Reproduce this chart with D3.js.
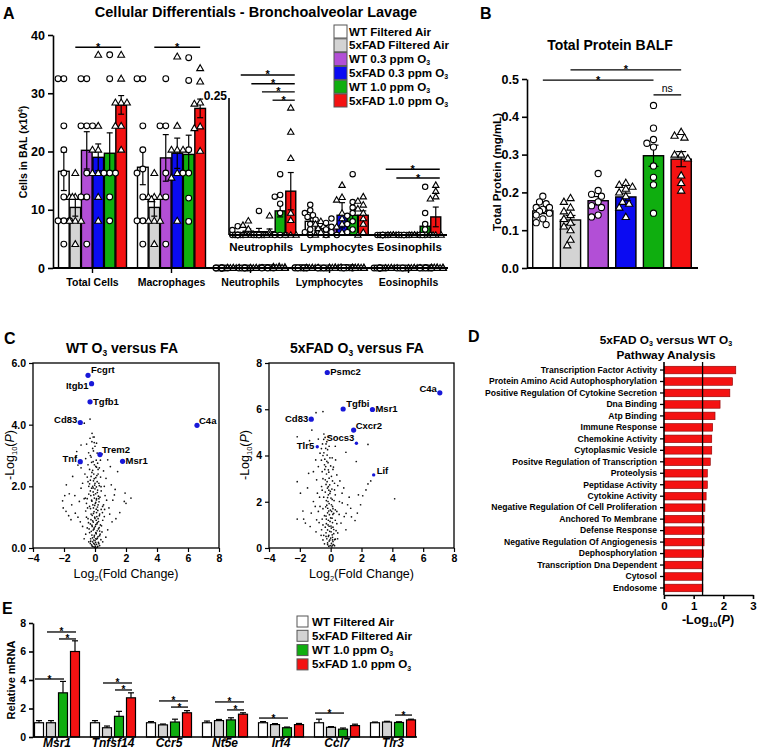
<!DOCTYPE html>
<html>
<head>
<meta charset="utf-8">
<script src="https://cdn.jsdelivr.net/npm/d3@7/dist/d3.min.js"></script>
<style>
body{margin:0;background:#fff;}
svg text{font-family:Arial,"Liberation Sans",Helvetica,sans-serif;}
</style>
</head>
<body>
<svg id="chart" width="757" height="752" xmlns="http://www.w3.org/2000/svg"></svg>
<script>
// ================= DATA =================
const groups = ["WT Filtered Air","5xFAD Filtered Air","WT 0.3 ppm O_{3}","5xFAD 0.3 ppm O_{3}","WT 1.0 ppm O_{3}","5xFAD 1.0 ppm O_{3}"];
const groupColors = ["#ffffff","#d3d3d3","#b24fd6","#0b0bf2","#0fae0f","#f41212"];
const groupMarkers = ["circle","triangle","circle","triangle","circle","triangle"];

// Panel A
const cellTypes = ["Total Cells","Macrophages","Neutrophils","Lymphocytes","Eosinophils"];
const insetTypes = ["Neutrophils","Lymphocytes","Eosinophils"];
const cellYTicks = [0,10,20,30,40];
const insetYTicks = [0.25];

const totalCellsMean = [16.6,10.4,20.2,19.0,19.7,28.0];
const totalCellsSem  = [3.3,1.5,3.2,2.3,3.5,1.6];
const totalCellsPoints = [
  [32.5,32.5,24.4,20.3,16.3,12.2,8.1,8.1,8.1,4.1],
  [16.3,12.2,12.2,12.2,12.2,8.1,8.1,8.1,4.1],
  [32.5,32.5,24.4,24.4,24.4,16.3,12.2,12.2,4.1],
  [36.6,24.4,20.3,20.3,16.3,16.3,16.3,12.2,8.1],
  [36.6,32.5,16.3,16.3,16.3,12.2,8.1],
  [36.6,32.5,28.4,28.4,28.4,24.4,24.4,20.3]
];
const macrophagesMean = [17.3,10.4,18.9,19.7,19.5,27.4];
const macrophagesSem  = [3.0,1.5,4.0,2.6,3.3,1.6];
const macrophagesPoints = [
  [32.5,32.5,24.4,20.3,17.0,16.3,12.2,8.1,8.1,4.1],
  [16.3,12.2,12.2,12.2,11.8,8.1,8.1,8.1,4.1],
  [32.5,24.4,24.4,16.3,12.2,4.1],
  [36.3,24.4,20.3,20.3,20.3,16.3,15.5,8.1],
  [36.1,32.2,20.3,16.3,16.3,12.0,8.0],
  [34.3,32.0,28.4,28.2,24.3,24.0,20.1]
];
const neutrophilsMean = [0.003,0.007,0.006,0.006,0.044,0.080];
const neutrophilsSem  = [0.002,0.004,0.006,0.005,0.011,0.034];
const neutrophilsPoints = [
  [0.016,0.009,0,0,0,0,0,0,0,0],
  [0.026,0.018,0.011,0,0,0,0,0],
  [0.044,0,0,0,0,0,0],
  [0.035,0.005,0,0,0,0,0],
  [0.111,0.073,0.070,0.057,0.040,0,0,0],
  [0.232,0.188,0.140,0.040,0.027,0,0,0]
];
const lymphocytesMean = [0.025,0.011,0.012,0.036,0.036,0.036];
const lymphocytesSem  = [0.006,0.004,0.004,0.023,0.010,0.008];
const lymphocytesPoints = [
  [0.055,0.045,0.040,0.036,0.033,0.028,0.020,0.010,0.005,0],
  [0.025,0.020,0.016,0.012,0.010,0.005,0,0],
  [0.030,0.022,0.015,0.010,0.005,0,0],
  [0.091,0.069,0.064,0.040,0.030,0.020,0.015,0.005],
  [0.111,0.060,0.050,0.040,0.035,0.025,0.020,0.010,0.005],
  [0.070,0.062,0.055,0.048,0.040,0.030,0.020,0.005,0]
];
const eosinophilsMean = [0,0,0,0,0.016,0.033];
const eosinophilsSem  = [0,0,0,0,0.006,0.018];
const eosinophilsPoints = [
  [0,0,0,0,0,0,0,0],
  [0,0,0,0,0,0,0],
  [0,0,0,0,0,0],
  [0,0,0,0,0,0,0],
  [0.088,0.040,0.020,0.010,0,0,0,0],
  [0.091,0.080,0.070,0.066,0,0,0,0]
];
const cellSig = [
  {cat:"Total Cells", a:1, b:5, y:37.9},
  {cat:"Macrophages", a:1, b:5, y:37.9}
];
const insetSig = [
  {cat:"Neutrophils", a:0, b:5, y:0.292},
  {cat:"Neutrophils", a:1, b:5, y:0.276},
  {cat:"Neutrophils", a:2, b:5, y:0.261},
  {cat:"Neutrophils", a:3, b:5, y:0.246},
  {cat:"Eosinophils", a:0, b:5, y:0.120},
  {cat:"Eosinophils", a:1, b:5, y:0.104}
];

// Panel B
const proteinYTicks = [0,0.1,0.2,0.3,0.4,0.5];
const proteinMean = [0.151,0.127,0.178,0.188,0.297,0.288];
const proteinSem  = [0.007,0.012,0.011,0.010,0.028,0.020];
const proteinPoints = [
  [0.19,0.175,0.17,0.16,0.16,0.155,0.15,0.145,0.14,0.13,0.12,0.115],
  [0.185,0.175,0.16,0.15,0.14,0.13,0.12,0.11,0.10,0.075,0.06],
  [0.25,0.205,0.195,0.19,0.175,0.165,0.16,0.14,0.135],
  [0.225,0.22,0.215,0.21,0.20,0.19,0.175,0.17,0.16,0.135],
  [0.43,0.37,0.34,0.33,0.32,0.27,0.24,0.22,0.145],
  [0.36,0.35,0.345,0.30,0.30,0.29,0.245,0.225,0.205]
];
const proteinSig = [
  {a:1, b:5, y:0.524, label:"*"},
  {a:0, b:4, y:0.497, label:"*"},
  {a:4, b:5, y:0.458, label:"ns"}
];

// Panel C
const volcanoXTicks = [-4,-2,0,2,4,6,8];
const wtGenes = ["Fcgrt","Itgb1","Tgfb1","Cd83","C4a","Trem2","Tnf","Msr1"];
const wtGeneFC = [-0.45,-0.22,-0.32,-0.95,6.58,0.32,-0.95,1.78];
const wtGeneP  = [5.6,5.33,4.74,4.07,3.98,3.03,2.8,2.81];
const wtBackground = [
[-0.32,4.18],[-0.69,4.05],[-0.19,3.72],[-0.05,3.6],[-0.32,3.56],[-0.54,3.37],[0.1,3.4],[-0.15,3.23],[-0.41,3.09],[-0.9,3.34],
[-1.18,3.13],[-1.23,2.96],[-0.6,2.9],[0.17,2.75],[0.82,2.86],[0.99,2.64],[0.71,2.26],[1.46,2.48],[1.25,1.72],[0.65,1.7],
[1.89,1.51],[2.32,1.62],[1.94,1.78],[-1.66,1.76],[-2.09,1.53],[-1.87,1.19],[-1.55,0.92],[-1.27,1.13],[-1.01,1.51],[-0.9,1.94],
[-1.44,2.32],[-1.1,2.69],[-0.8,2.1],[-0.7,1.6],[0.39,1.99],[0.49,1.35],[0.6,1.02],[0.82,0.59],[0.3,0.55],[-0.8,0.7],
[-0.6,0.45],[-0.4,0.2],[-2.05,1.3],[-1.85,2.05],[2.0,1.45],[1.6,1.15],[1.1,0.85],[1.05,2.05],[0.55,2.5],[0.45,3.05],
[-0.25,2.95],[-0.12,2.8],[0.05,2.65],[-0.35,2.55],[-0.2,2.45],[0.12,2.35],[-0.05,2.25],[-0.45,2.15],[0.25,2.1],[-0.15,2.0],
[0.0,1.92],[-0.3,1.85],[0.15,1.8],[-0.08,1.72],[0.32,1.65],[-0.5,1.6],[-0.22,1.55],[0.05,1.48],[0.2,1.4],[-0.35,1.35],
[-0.1,1.3],[0.4,1.25],[-0.6,1.2],[0.1,1.15],[-0.25,1.1],[0.28,1.05],[-0.02,1.0],[-0.45,0.95],[0.5,0.9],[-0.15,0.88],
[0.15,0.82],[-0.3,0.78],[0.35,0.75],[0.02,0.7],[-0.5,0.65],[0.22,0.62],[-0.12,0.58],[0.45,0.52],[-0.35,0.5],[0.08,0.46],
[-0.2,0.42],[0.3,0.4],[-0.05,0.36],[0.15,0.32],[-0.28,0.3],[0.38,0.27],[0.0,0.24],[-0.15,0.2],[0.22,0.18],[-0.08,0.15],
[0.1,0.12],[-0.22,0.1],[0.3,0.08],[0.02,0.06],[-0.12,0.04],[0.15,0.03],[-0.03,0.02],[0.06,0.01],[-0.3,0.15],[0.5,0.2],
[0.7,0.35],[-0.7,0.3],[0.9,1.3],[1.3,1.9],[-1.3,1.7],[-1.5,1.4],[-1.1,1.0],[-0.95,0.85],[0.75,1.55],[0.95,1.1],
[-0.65,2.4],[-0.9,2.6],[0.3,3.0],[-0.1,3.15],[0.0,3.3],[-0.2,3.45],[0.25,1.6],[-0.4,1.75],[0.6,2.0],[-0.55,1.0],
[0.2,0.95],[1.15,1.55],[1.35,0.95],[-1.7,1.05],[-1.95,1.7],[0.05,0.5],[-0.05,0.65],[0.12,0.78],[-0.18,0.7],[0.08,0.9],
[-0.1,1.12],[0.18,1.22],[-0.02,1.38],[0.1,1.6],[-0.12,1.95],[0.2,2.55],[-0.3,2.2],[0.0,2.1],[-0.08,2.4],[0.04,0.3],
[-0.02,0.12],[0.04,0.18],[-0.09,0.26],[0.11,0.29],[-0.16,0.33],[0.2,0.37],[-0.04,0.41],[0.07,0.48],[-0.24,0.54],[0.14,0.56],
[-0.07,0.61],[0.27,0.66],[-0.2,0.74],[0.05,0.76],[-0.11,0.84],[0.23,0.86],[-0.26,0.92],[0.0,0.96],[0.12,1.02],[-0.18,1.06],
[0.3,1.1],[-0.06,1.18],[0.08,1.26],[-0.29,1.28],[0.16,1.33],[-0.14,1.4],[0.02,1.45],[0.26,1.5],[-0.2,1.52],[0.09,1.56],
[-0.04,1.62],[0.22,1.68],[-0.27,1.7],[0.04,1.76],[-0.12,1.82],[0.17,1.88],[-0.22,1.94],[0.09,1.98],[-0.02,2.04],[0.28,2.02],
[-0.35,2.08],[0.14,2.15],[-0.1,2.18],[0.05,2.28],[-0.25,2.32],[0.2,2.4],[-0.15,2.52],[0.1,2.62],[-0.04,2.7],[-0.22,2.78],
[0.08,2.85],[-0.3,3.0],[0.14,3.08],[-0.05,3.42],[-0.12,3.6],[0.18,0.05],[-0.18,0.06],[0.25,0.14],[-0.28,0.22],[0.33,0.45],
[-0.38,0.62],[0.42,0.72],[-0.42,0.82],[0.48,1.15],[-0.48,1.3],[0.55,1.4],[-0.55,1.45],[0.62,1.25],[-0.62,1.62],[0.4,1.85],
[-0.4,2.0],[0.36,2.3],[-0.5,2.3],[0.28,2.6],[-0.45,2.7],[0.35,2.85]
];
const fadGenes = ["Psmc2","C4a","Tgfbi","Msr1","Cd83","Cxcr2","Socs3","Tlr5","Lif"];
const fadGeneFC = [-0.22,7.08,0.81,2.71,-1.26,1.49,1.67,-0.87,2.79];
const fadGeneP  = [7.59,6.71,6.01,5.99,5.57,5.1,4.53,4.38,3.16];
const fadBackground = [
[-0.95,5.85],[-0.5,5.9],[-1.22,5.1],[-2.17,4.81],[-1.37,4.64],[-0.8,4.71],[-0.44,4.93],[-0.36,4.78],[-0.53,4.5],[-0.32,4.31],
[-0.44,4.12],[-0.23,4.02],[-0.38,3.84],[-0.17,3.69],[-0.32,3.52],[-0.15,3.38],[-0.27,3.2],[-0.1,3.02],[-0.23,2.87],[-0.06,2.73],
[-0.21,2.59],[-0.02,2.45],[-0.15,2.3],[0.02,2.16],[-0.17,2.01],[0.05,1.87],[-0.19,1.72],[0.06,1.58],[-0.08,1.44],[0.09,1.29],
[-0.04,1.15],[-0.17,1.0],[0.04,0.86],[-0.06,0.72],[0.1,0.57],[0.0,0.43],[-0.1,0.3],[0.05,0.2],[-0.03,0.1],[0.08,0.05],
[0.99,4.14],[1.66,3.74],[2.42,4.48],[2.42,2.77],[4.15,2.13],[2.29,2.51],[2.08,2.26],[1.94,1.87],[1.73,1.51],[1.58,1.19],
[1.3,1.72],[1.1,1.87],[0.88,1.36],[0.4,3.16],[0.32,3.81],[0.46,2.7],[0.74,2.37],[0.25,2.51],[0.57,2.01],[0.4,1.58],
[0.67,1.08],[0.99,0.79],[0.46,0.65],[0.25,0.36],[-2.17,2.87],[-1.96,2.37],[-2.17,1.25],[-1.75,1.25],[-1.64,1.08],[-1.26,1.51],
[-1.43,3.23],[-1.12,3.3],[-0.97,3.81],[-0.8,3.52],[-0.86,2.37],[-0.69,1.8],[-1.12,2.01],[-0.91,1.22],[-0.59,0.79],[-1.33,0.93],
[-0.8,1.58],[-0.59,2.66],[-0.91,2.95],[-0.69,4.1],[-0.55,3.3],[-0.45,2.2],[-0.4,1.4],[-0.35,0.9],[-0.3,0.5],[-0.5,0.35],
[0.2,0.8],[0.3,1.2],[0.15,1.7],[0.22,2.05],[0.12,2.9],[0.18,3.5],[0.6,2.9],[0.85,2.6],[1.2,2.2],[1.0,1.5],
[-0.62,0.55],[-0.75,1.1],[-1.0,1.8],[-1.5,2.6],[-1.8,1.6],[-0.28,1.25],[-0.25,1.85],[-0.12,2.5],[-0.3,2.75],[-0.4,3.6],
[-0.25,4.6],[-0.1,4.4],[-0.45,4.7],[0.12,0.35],[0.18,0.15],[-0.2,0.15],[-0.12,0.55],[0.02,0.95],[0.14,1.45],[-0.13,1.6],
[0.45,0.4],[0.55,1.45],[0.75,1.95],[1.35,1.35],[1.8,2.3],[2.6,2.9],[0.3,4.4],[-0.6,4.3],[-0.72,2.2],[-0.95,0.7],
[-0.12,0.08],[0.1,0.12],[-0.2,0.22],[0.15,0.28],[-0.05,0.35],[-0.25,0.4],[0.12,0.46],[-0.15,0.5],[0.2,0.62],[-0.3,0.66],
[0.03,0.7],[-0.2,0.78],[0.15,0.9],[-0.1,0.94],[-0.28,1.05],[0.12,1.1],[-0.15,1.2],[0.0,1.3],[-0.3,1.38],[0.2,1.5],
[-0.2,1.52],[-0.02,1.64],[-0.32,1.78],[0.12,1.8],[-0.1,1.92],[-0.28,2.05],[0.1,2.1],[-0.2,2.18],[-0.05,2.36],[-0.35,2.42],
[0.08,2.55],[-0.15,2.65],[-0.35,2.95],[0.05,3.1],[-0.12,3.28],[-0.38,3.4],[0.0,3.55],[-0.25,3.75],[-0.05,3.9],[-0.2,4.25],
[-0.3,4.5],[-0.12,4.8],[0.25,0.1],[-0.4,0.18],[0.3,0.38],[-0.45,0.55],[0.35,0.75],[-0.5,1.0],[0.4,1.05],[-0.55,1.25],
[0.3,1.65],[-0.5,1.7],[0.3,2.3],[-0.55,2.5],[0.25,2.8],[-0.5,3.0],[0.15,3.4],[-0.6,3.8],[0.1,3.9],[-0.5,4.0]
];

// Panel D
const pathways = ["Transcription Factor Activity","Protein Amino Acid Autophosphorylation","Positive Regulation Of Cytokine Secretion","Dna Binding","Atp Binding","Immune Response","Chemokine Activity","Cytoplasmic Vesicle","Positve Regulation of Transcription","Proteolysis","Peptidase Activity","Cytokine Activity","Negative Regulation Of Cell Proliferation","Anchored To Membrane","Defense Response","Negative Regulation Of Angiogenesis","Dephosphorylation","Transcription Dna Dependent","Cytosol","Endosome"];
const pathwayLogP = [2.42,2.31,2.22,1.89,1.72,1.64,1.61,1.61,1.56,1.46,1.46,1.42,1.38,1.35,1.35,1.35,1.33,1.31,1.31,1.31];
const pathwayXTicks = [0,1,2,3];
const pathwayThreshold = 1.3;

// Panel E
const genesE = ["Msr1","Tnfsf14","Ccr5","Nt5e","Irf4","Ccl7","Tlr3"];
const groupsE = [0,1,4,5];
const mrnaYTicks = [0,2,4,6,8];
const mrnaWTFA    = [1.0,1.0,1.0,1.0,1.0,1.0,1.0];
const mrnaFADFA   = [1.0,0.65,0.85,1.15,0.87,0.68,1.05];
const mrnaWTO3    = [3.1,1.45,1.05,1.2,0.65,0.55,1.02];
const mrnaFADO3   = [6.0,2.75,1.7,1.6,0.87,0.8,1.2];
const mrnaWTFASem  = [0.15,0.15,0.08,0.12,0.08,0.25,0.05];
const mrnaFADFASem = [0.15,0.12,0.06,0.08,0.07,0.05,0.05];
const mrnaWTO3Sem  = [0.8,0.35,0.2,0.15,0.05,0.08,0.05];
const mrnaFADO3Sem = [0.75,0.35,0.15,0.1,0.08,0.1,0.05];
const mrnaSig = [
  {gene:"Msr1", a:1, b:3, y:7.37},{gene:"Msr1", a:2, b:3, y:6.88},{gene:"Msr1", a:0, b:2, y:4.07},
  {gene:"Tnfsf14", a:1, b:3, y:3.79},{gene:"Tnfsf14", a:2, b:3, y:3.3},
  {gene:"Ccr5", a:1, b:3, y:2.53},{gene:"Ccr5", a:2, b:3, y:2.1},
  {gene:"Nt5e", a:1, b:3, y:2.46},{gene:"Nt5e", a:2, b:3, y:1.9},
  {gene:"Irf4", a:0, b:2, y:1.33},
  {gene:"Ccl7", a:0, b:2, y:1.68},
  {gene:"Tlr3", a:2, b:3, y:1.54}
];

// ================= HELPERS =================
const svg = d3.select("#chart");
function rich(sel, str, fs) {
  const re = /(_\{[^}]*\}|\^\{[^}]*\}|\*\{[^}]*\})/;
  const parts = str.split(re).filter(s => s.length);
  let cur = 0;
  parts.forEach(p => {
    let target = 0, txt = p, size = fs, italic = false;
    if (p.startsWith("_{")) { txt = p.slice(2,-1); target = fs*0.2; size = fs*0.6; }
    else if (p.startsWith("^{")) { txt = p.slice(2,-1); target = -fs*0.38; size = fs*0.62; }
    else if (p.startsWith("*{")) { txt = p.slice(2,-1); italic = true; }
    const t = sel.append("tspan").attr("dy", target - cur).style("font-size", size + "px").text(txt);
    if (italic) t.style("font-style","italic");
    cur = target;
  });
  return sel;
}
function text(g, x, y, str, fs, opts={}) {
  const t = g.append("text").attr("x", x).attr("y", y)
    .attr("text-anchor", opts.anchor || "start")
    .style("font-weight", opts.weight || "bold").style("font-size", fs+"px").attr("fill","#000");
  if (opts.rotate) t.attr("transform", `rotate(-90,${x},${y})`);
  if (opts.italic) t.style("font-style","italic");
  rich(t, str, fs);
  return t;
}
function marker(g, shape, x, y, r) {
  if (shape === "circle") {
    g.append("circle").attr("cx", x).attr("cy", y).attr("r", r)
      .attr("fill","#fff").attr("stroke","#000").attr("stroke-width",1.1);
  } else {
    g.append("path").attr("d", d3.symbol(d3.symbolTriangle, r*r*2.4)())
      .attr("transform", `translate(${x},${y + r*0.15})`)
      .attr("fill","#fff").attr("stroke","#000").attr("stroke-width",1.1);
  }
}
function swarm(vals, yS, cx, step, r) {
  const idx = vals.map((v,i)=>i).sort((a,b)=>vals[b]-vals[a]);
  const placed = [], res = new Array(vals.length);
  const offs = [0,-1,1,-2,2];
  idx.forEach(i => {
    const py = yS(vals[i]);
    let best = cx, bestD = -1;
    for (const k of offs) {
      const px = cx + k*step;
      let md = Infinity;
      placed.forEach(p => { md = Math.min(md, Math.hypot(p[0]-px, p[1]-py)); });
      if (md >= 2*r) { best = px; break; }
      if (md > bestD) { bestD = md; best = px; }
    }
    placed.push([best,py]); res[i] = [best,py];
  });
  return res;
}
function errBar(g, cx, yS, m, s, cap) {
  if (!s) return;
  g.append("line").attr("x1",cx).attr("x2",cx).attr("y1",yS(m-s)).attr("y2",yS(m+s)).attr("stroke","#000").attr("stroke-width",1.2);
  [m-s, m+s].forEach(v => g.append("line").attr("x1",cx-cap).attr("x2",cx+cap).attr("y1",yS(v)).attr("y2",yS(v)).attr("stroke","#000").attr("stroke-width",1.2));
}
function sigLine(g, x1, x2, y, label, fs) {
  g.append("line").attr("x1",x1).attr("x2",x2).attr("y1",y).attr("y2",y).attr("stroke","#000").attr("stroke-width",1.3);
  if (label === "*") text(g, (x1+x2)/2, y+3.5, "*", fs, {anchor:"middle"});
  else text(g, (x1+x2)/2, y-3, label, fs, {anchor:"middle", weight:"normal"});
}
function styleAxis(ax, fs) {
  ax.selectAll("path,line").attr("stroke","#000").attr("stroke-width",1.6);
  ax.selectAll("text").style("font-weight","bold").style("font-size", fs+"px").attr("fill","#000")
    .style("font-family",'Arial,"Liberation Sans",sans-serif');
}
function drawGroupedBars(g, centers, barW, yS, means, sems, pts, colorIdx, r, step, cap) {
  means.forEach((m,i) => {
    const cx = centers[i];
    const ci = colorIdx[i];
    const h = Math.max(0, yS(0) - yS(m));
    g.append("rect").attr("x", cx-barW/2).attr("y", yS(m)).attr("width", barW).attr("height", h)
      .attr("fill", groupColors[ci]).attr("stroke","#000").attr("stroke-width",1.4);
  });
  means.forEach((m,i) => errBar(g, centers[i], yS, m, sems[i], cap));
  if (pts) pts.forEach((vals,i) => {
    const pos = swarm(vals, yS, centers[i], step, r);
    pos.forEach(p => marker(g, groupMarkers[colorIdx[i]], p[0], p[1], r));
  });
}

// ================= PANEL A =================
const gA = svg.append("g");
text(gA, 3, 19, "A", 16);
text(gA, 256, 17, "Cellular Differentials - Bronchoalveolar Lavage", 14.5, {anchor:"middle"});
const aY = d3.scaleLinear().domain([0,40]).range([268,35]);
const aX = d3.scaleBand().domain(cellTypes).range([53,448]);
const aSub = d3.scaleBand().domain(d3.range(6)).range([-34,34]).paddingInner(0.07);
const aMeans = [totalCellsMean, macrophagesMean, neutrophilsMean, lymphocytesMean, eosinophilsMean];
const aSems  = [totalCellsSem, macrophagesSem, neutrophilsSem, lymphocytesSem, eosinophilsSem];
const aPts   = [totalCellsPoints, macrophagesPoints, neutrophilsPoints, lymphocytesPoints, eosinophilsPoints];
cellTypes.forEach((c,ci) => {
  const centers = d3.range(6).map(i => aX(c) + aX.bandwidth()/2 + aSub(i) + aSub.bandwidth()/2);
  drawGroupedBars(gA, centers, aSub.bandwidth(), aY, aMeans[ci], ci < 2 ? aSems[ci] : [0,0,0,0,0,0], aPts[ci], d3.range(6), 2.9, 2.9, 3);
});
const axA = gA.append("g").attr("transform","translate(53,0)").call(d3.axisLeft(aY).tickValues(cellYTicks).tickSize(5).tickSizeOuter(0));
styleAxis(axA, 12.5);
gA.append("line").attr("x1",53).attr("x2",448).attr("y1",268).attr("y2",268).attr("stroke","#000").attr("stroke-width",1.8);
cellTypes.forEach(c => {
  const cx = aX(c) + aX.bandwidth()/2;
  gA.append("line").attr("x1",cx).attr("x2",cx).attr("y1",268).attr("y2",273).attr("stroke","#000").attr("stroke-width",1.4);
  text(gA, cx, 286, c, 10.5, {anchor:"middle"});
});
text(gA, 27, 152, "Cells in BAL (x10^{4})", 10.5, {anchor:"middle", rotate:true});
cellSig.forEach(s => {
  const base = aX(s.cat) + aX.bandwidth()/2;
  sigLine(gA, base + aSub(s.a) + aSub.bandwidth()/2, base + aSub(s.b) + aSub.bandwidth()/2, aY(s.y), "*", 11);
});

// inset
const iY = d3.scaleLinear().domain([0,0.25]).range([235,98]);
const iX = d3.scaleBand().domain(insetTypes).range([228,445.5]);
const iSub = d3.scaleBand().domain(d3.range(6)).range([-31.5,31.5]).paddingInner(0.06);
const iMeans = [neutrophilsMean, lymphocytesMean, eosinophilsMean];
const iSems = [neutrophilsSem, lymphocytesSem, eosinophilsSem];
const iPts = [neutrophilsPoints, lymphocytesPoints, eosinophilsPoints];
insetTypes.forEach((c,ci) => {
  const centers = d3.range(6).map(i => iX(c) + iX.bandwidth()/2 + iSub(i) + iSub.bandwidth()/2);
  drawGroupedBars(gA, centers, iSub.bandwidth(), iY, iMeans[ci], iSems[ci], iPts[ci], d3.range(6), 2.7, 2.7, 3);
  text(gA, iX(c) + iX.bandwidth()/2 - (ci === 0 ? 3 : 0), 251, c, 11.5, {anchor:"middle"});
});
const axI = gA.append("g").attr("transform","translate(229,0)").call(d3.axisLeft(iY).tickValues(insetYTicks).tickSize(0).tickSizeOuter(0).tickFormat(d3.format(".2f")));
styleAxis(axI, 12);
axI.select(".domain").attr("d", `M0,${iY(0.25)}V${iY(0)}`);
axI.selectAll(".tick text").attr("x", -2).attr("dy", "0.1em");
gA.append("line").attr("x1",229).attr("x2",447).attr("y1",235).attr("y2",235).attr("stroke","#000").attr("stroke-width",1.8);
insetSig.forEach(s => {
  const base = iX(s.cat) + iX.bandwidth()/2;
  sigLine(gA, base + iSub(s.a) + iSub.bandwidth()/2 + 3, base + iSub(s.b) + iSub.bandwidth()/2 + 4, iY(s.y), "*", 11);
});

// legend A
groups.forEach((gname,i) => {
  const y = 31.5 + i*13.8;
  gA.append("rect").attr("x",334).attr("y",y-6.5).attr("width",13).attr("height",13)
    .attr("fill", groupColors[i]).attr("stroke","#555").attr("stroke-width",1);
  text(gA, 349, y+4, gname, 11.6);
});

// ================= PANEL B =================
const gB = svg.append("g");
text(gB, 480, 19, "B", 16);
text(gB, 610, 50, "Total Protein BALF", 14, {anchor:"middle"});
const bY = d3.scaleLinear().domain([0,0.5]).range([268,79]);
const bX = d3.scaleBand().domain(d3.range(6)).range([529,695]).paddingInner(0.27).paddingOuter(0.135);
const bCenters = d3.range(6).map(i => bX(i) + bX.bandwidth()/2);
drawGroupedBars(gB, bCenters, bX.bandwidth(), bY, proteinMean, proteinSem, proteinPoints, d3.range(6), 3.1, 3.3, 5);
const axB = gB.append("g").attr("transform","translate(527,0)").call(d3.axisLeft(bY).tickValues(proteinYTicks).tickSize(5).tickSizeOuter(0).tickFormat(d3.format(".1f")));
styleAxis(axB, 12.5);
gB.append("line").attr("x1",527).attr("x2",698).attr("y1",268).attr("y2",268).attr("stroke","#000").attr("stroke-width",1.8);
text(gB, 501, 172, "Total Protein (mg/mL)", 11.5, {anchor:"middle", rotate:true});
proteinSig.forEach(s => sigLine(gB, bCenters[s.a], bCenters[s.b], bY(s.y), s.label, s.label === "*" ? 11 : 10.5));

// ================= PANEL C =================
const gC = svg.append("g");
text(gC, 4, 344, "C", 16);
const labelSide = {
  wt: {Fcgrt:[3,-2,"start"], Itgb1:[-3,5,"end"], Tgfb1:[3,3,"start"], Cd83:[-3,0,"end"], C4a:[2,-1,"start"], Trem2:[2,-2,"start"], Tnf:[-3,0,"end"], Msr1:[3,3,"start"]},
  fad: {Psmc2:[3,3,"start"], C4a:[-3,-1,"end"], Tgfbi:[3,-2,"start"], Msr1:[3,3,"start"], Cd83:[-3,3,"end"], Cxcr2:[2,-1,"start"], Socs3:[-2,-2,"end"], Tlr5:[-3,2,"end"], Lif:[3,-1,"start"]}
};
const smallDots = {Socs3:true, Tlr5:true, Lif:true};
function volcano(g, left, right, ymax, yTicks, title, titleX, bg, genes, fc, p, sides, ylabX) {
  const x = d3.scaleLinear().domain([-4,8]).range([left,right]);
  const y = d3.scaleLinear().domain([0,ymax]).range([548,363]);
  text(g, titleX, 353, title, 14, {anchor:"middle"});
  g.selectAll(null).data(bg).enter().append("circle")
    .attr("cx", d => x(d[0])).attr("cy", d => y(d[1])).attr("r", 0.85).attr("fill","#111");
  genes.forEach((gn,i) => {
    const cx = x(fc[i]), cy = y(p[i]);
    g.append("circle").attr("cx",cx).attr("cy",cy).attr("r", smallDots[gn] ? 1.7 : 2.6).attr("fill","#1818d8");
    const s = sides[gn];
    text(g, cx + s[0], cy + s[1], gn, 9.5, {anchor:s[2]});
  });
  g.append("rect").attr("x",left).attr("y",363).attr("width",right-left).attr("height",185)
    .attr("fill","none").attr("stroke","#000").attr("stroke-width",1.3);
  const ax = g.append("g").attr("transform","translate(0,548)").call(d3.axisBottom(x).tickValues(volcanoXTicks).tickSize(4).tickSizeOuter(0));
  styleAxis(ax, 10.5); ax.select(".domain").remove(); ax.selectAll("line").attr("stroke-width",1.2);
  const ay = g.append("g").attr("transform",`translate(${left},0)`).call(d3.axisLeft(y).tickValues(yTicks).tickSize(4).tickSizeOuter(0));
  styleAxis(ay, 10.5); ay.select(".domain").remove(); ay.selectAll("line").attr("stroke-width",1.2);
  text(g, (left+right)/2, 578, "Log_{2}(Fold Change)", 12.5, {anchor:"middle", weight:"normal"});
  text(g, ylabX, 455, "-Log_{10}(*{P})", 12.5, {anchor:"middle", weight:"normal", rotate:true});
}
volcano(gC, 33, 219, 6, [0,2,4,6], "WT O_{3} versus FA", 122, wtBackground, wtGenes, wtGeneFC, wtGeneP, labelSide.wt, 14);
volcano(gC, 269, 454, 8, [0,2,4,6,8], "5xFAD O_{3} versus FA", 357, fadBackground, fadGenes, fadGeneFC, fadGeneP, labelSide.fad, 249);

// ================= PANEL D =================
const gD = svg.append("g");
text(gD, 468, 342, "D", 16);
text(gD, 666, 344, "5xFAD O_{3} versus WT O_{3}", 11.8, {anchor:"middle"});
text(gD, 666, 359, "Pathway Analysis", 11.8, {anchor:"middle"});
const dX = d3.scaleLinear().domain([0,3]).range([664,753]);
const dY = d3.scaleBand().domain(pathways).range([364.3,593.7]).paddingInner(0.34).paddingOuter(0.17);
gD.selectAll(null).data(pathways).enter().append("rect")
  .attr("x", dX(0)).attr("y", d => dY(d)).attr("width", (d,i) => dX(pathwayLogP[i]) - dX(0)).attr("height", dY.bandwidth())
  .attr("fill","#f41212").attr("stroke","#8a0000").attr("stroke-width",0.6);
gD.append("line").attr("x1",dX(pathwayThreshold)).attr("x2",dX(pathwayThreshold)).attr("y1",362).attr("y2",595).attr("stroke","#000").attr("stroke-width",1.3);
const axDY = gD.append("g").attr("transform",`translate(${dX(0)},0)`).call(d3.axisLeft(dY).tickSize(4).tickSizeOuter(0));
styleAxis(axDY, 8.6);
axDY.select(".domain").attr("d","M0,362V595");
axDY.selectAll("line").attr("stroke-width",1.3);
const axDX = gD.append("g").attr("transform","translate(0,595)").call(d3.axisBottom(dX).tickValues(pathwayXTicks).tickSize(4).tickSizeOuter(0).tickFormat(d3.format("d")));
styleAxis(axDX, 11.5);
text(gD, 708, 624, "-Log_{10}(*{P})", 12.5, {anchor:"middle"});

// ================= PANEL E =================
const gE = svg.append("g");
text(gE, 2, 614, "E", 16);
const eY = d3.scaleLinear().domain([0,8]).range([737,623]);
const eX = d3.scaleBand().domain(genesE).range([29,421]);
const eSub = d3.scaleBand().domain(d3.range(4)).range([-22.5,22.5]).paddingInner(0.25);
const eVals = [mrnaWTFA, mrnaFADFA, mrnaWTO3, mrnaFADO3];
const eSems = [mrnaWTFASem, mrnaFADFASem, mrnaWTO3Sem, mrnaFADO3Sem];
genesE.forEach((gn,gi) => {
  const centers = d3.range(4).map(k => eX(gn) + eX.bandwidth()/2 + eSub(k) + eSub.bandwidth()/2);
  const means = eVals.map(a => a[gi]);
  const sems = eSems.map(a => a[gi]);
  means.forEach((m,k) => {
    gE.append("rect").attr("x", centers[k]-eSub.bandwidth()/2).attr("y", eY(m)).attr("width", eSub.bandwidth()).attr("height", eY(0)-eY(m))
      .attr("fill", groupColors[groupsE[k]]).attr("stroke","#000").attr("stroke-width",1.2);
  });
  means.forEach((m,k) => {
    const cx = centers[k];
    gE.append("line").attr("x1",cx).attr("x2",cx).attr("y1",eY(m)).attr("y2",eY(m+sems[k])).attr("stroke","#000").attr("stroke-width",1.2);
    gE.append("line").attr("x1",cx-3).attr("x2",cx+3).attr("y1",eY(m+sems[k])).attr("y2",eY(m+sems[k])).attr("stroke","#000").attr("stroke-width",1.2);
  });
  const cx = eX(gn) + eX.bandwidth()/2;
  gE.append("line").attr("x1",cx).attr("x2",cx).attr("y1",737).attr("y2",741).attr("stroke","#000").attr("stroke-width",1.3);
  text(gE, cx, 747, gn, 12, {anchor:"middle", italic:true});
});
mrnaSig.forEach(s => {
  const base = eX(s.gene) + eX.bandwidth()/2;
  sigLine(gE, base + eSub(s.a) + eSub.bandwidth()/2 - 4, base + eSub(s.b) + eSub.bandwidth()/2 + 1, eY(s.y), "*", 10);
});
const axE = gE.append("g").attr("transform","translate(33,0)").call(d3.axisLeft(eY).tickValues(mrnaYTicks).tickSize(4).tickSizeOuter(0));
styleAxis(axE, 10.5);
gE.append("line").attr("x1",33).attr("x2",417).attr("y1",737).attr("y2",737).attr("stroke","#000").attr("stroke-width",1.6);
text(gE, 15, 680, "Relative mRNA", 11, {anchor:"middle", rotate:true});
groupsE.forEach((gi,k) => {
  const y = 621.5 + k*14.3;
  gE.append("rect").attr("x",297).attr("y",y-5.5).attr("width",11).attr("height",11)
    .attr("fill", groupColors[gi]).attr("stroke","#555").attr("stroke-width",1);
  text(gE, 312, y+4, groups[gi], 11.6);
});
</script>
</body>
</html>
